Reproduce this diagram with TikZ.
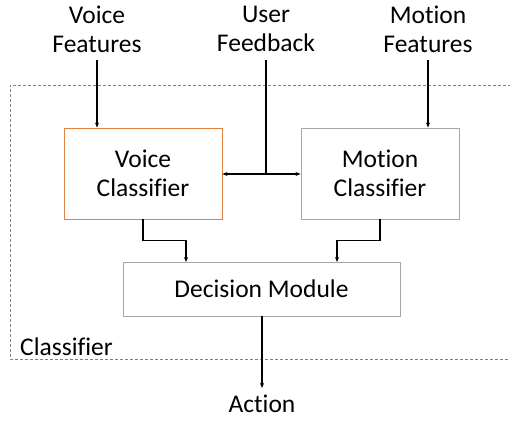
\documentclass[tikz,border=0pt]{standalone}
\usepackage{fontspec}
\setmainfont{Carlito}[Ligatures=CommonOff]
\usetikzlibrary{arrows.meta}
\definecolor{boxgray}{HTML}{A6A6A6}
\definecolor{boxorange}{HTML}{E0823F}
\definecolor{framegray}{HTML}{7F7F8A}
\begin{document}
\begin{tikzpicture}[x=1pt,y=-1pt,
  txt/.style={font=\fontsize{25.5}{29}\selectfont, align=center, inner sep=0pt},
  blk/.style={draw=boxgray, line width=0.9pt, fill=white, inner sep=0pt},
  conn/.style={draw=black, line width=1.2pt, -{Stealth[length=5pt,width=4pt]}},
  line/.style={draw=black, line width=1.2pt}]
\useasboundingbox (0,0) rectangle (510,420);
% frame
\draw[framegray, dashed, line width=0.7pt, dash pattern=on 3pt off 2pt] (511,85) -- (10,85) -- (10,359) -- (511,359);
\node[txt, anchor=west] (clab) at (20,347) {Classifier};
% boxes
\node[blk, draw=boxorange, minimum width=158pt, minimum height=91pt] (vc) at (143,173.5) {};
\node[txt] at (vc.center) {Voice\\Classifier};
\node[blk, minimum width=158pt, minimum height=91pt] (mc) at (380,173.5) {};
\node[txt] at (mc.center) {Motion\\Classifier};
\node[blk, minimum width=277pt, minimum height=54pt] (dm) at (261.5,289) {};
\node[txt] at (dm.center) {Decision Module};
% inputs
\node[txt] (vf) at (97,29) {Voice\\Features};
\node[txt] (uf) at (266,29) {User\\Feedback};
\node[txt] (mf) at (428,29) {Motion\\Features};
\node[txt] (act) at (262,404) {Action};
\coordinate (vfb) at (97,60);
\coordinate (ufb) at (266,60);
\coordinate (mfb) at (428,60);
\coordinate (actt) at (262,388);
\draw[conn] (vfb) -- (vfb |- vc.north);
\draw[conn] (mfb) -- (mfb |- mc.north);
\coordinate (junc) at (266,174);
\draw[line] (ufb) -- (junc);
\draw[conn] (junc) -- (vc.east |- junc);
\draw[conn] (junc) -- (mc.west |- junc);
% to decision
\draw[conn] (vc.south) -- ++(0,21) -| (186,262);
\draw[conn] (mc.south) -- ++(0,21) -| (337,262);
\draw[conn] (dm.south -| actt) -- (actt);
\end{tikzpicture}
\end{document}
